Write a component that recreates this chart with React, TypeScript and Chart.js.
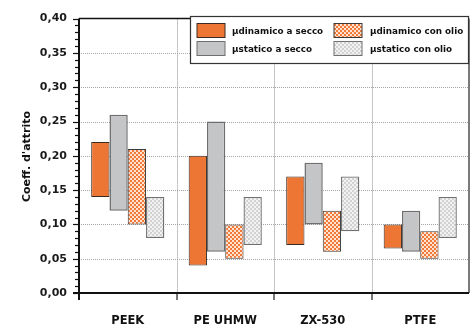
import React, { useEffect, useRef } from 'react';
import { Chart, registerables } from 'chart.js';

Chart.register(...registerables);

const categories = ['PEEK', 'PE UHMW', 'ZX-530', 'PTFE'];
const seriesLabels = ['µdinamico a secco', 'µstatico a secco', 'µdinamico con olio', 'µstatico con olio'];
const dynDryLow = [0.14, 0.04, 0.07, 0.065];
const dynDryHigh = [0.22, 0.2, 0.17, 0.1];
const statDryLow = [0.12, 0.06, 0.1, 0.06];
const statDryHigh = [0.26, 0.25, 0.19, 0.12];
const dynOilLow = [0.1, 0.05, 0.06, 0.05];
const dynOilHigh = [0.21, 0.1, 0.12, 0.09];
const statOilLow = [0.08, 0.07, 0.09, 0.08];
const statOilHigh = [0.14, 0.14, 0.17, 0.14];
const yMin = 0;
const yMax = 0.4;
const yStep = 0.05;
const yMinorStep = 0.01;
const yTitle = "Coeff. d'attrito";

const FONT = "'DejaVu Sans', sans-serif";

function makePattern(a: string, b: string): CanvasPattern | string {
  const c = document.createElement('canvas');
  c.width = 4;
  c.height = 4;
  const g = c.getContext('2d');
  if (!g) return a;
  g.fillStyle = a;
  g.fillRect(0, 0, 4, 4);
  g.fillStyle = b;
  g.fillRect(0, 0, 2, 2);
  g.fillRect(2, 2, 2, 2);
  const p = g.createPattern(c, 'repeat');
  return p || a;
}

export default function App() {
  const ref = useRef<HTMLCanvasElement | null>(null);

  useEffect(() => {
    const canvas = ref.current;
    if (!canvas) return;
    const orange = '#EE7634';
    const gray = '#C4C5C7';
    const orangePat = makePattern('#EF7A3A', '#FFE2CF');
    const grayPat = makePattern('#D2D2D2', '#F2F2F2');

    const styles = [
      { bg: orange, border: '#3a2a22', width: 1 },
      { bg: gray, border: '#6e6e6e', width: 1.5 },
      { bg: orangePat, border: '#3a3a3a', width: 1 },
      { bg: grayPat, border: '#707070', width: 1.3 },
    ];
    const lows = [dynDryLow, statDryLow, dynOilLow, statOilLow];
    const highs = [dynDryHigh, statDryHigh, dynOilHigh, statOilHigh];

    const framePlugin = {
      id: 'frame',
      beforeDatasetsDraw(chart: any) {
        const { ctx, chartArea, scales } = chart;
        const { left, right, top, bottom } = chartArea;
        const x = scales.x;
        const y = scales.y;
        ctx.save();
        ctx.setLineDash([1, 1]);
        ctx.strokeStyle = '#a6a6a6';
        ctx.lineWidth = 1;
        for (let v = yMin + yStep; v < yMax - 1e-9; v += yStep) {
          const py = Math.round(y.getPixelForValue(v)) + 0.5;
          ctx.beginPath();
          ctx.moveTo(left, py);
          ctx.lineTo(right, py);
          ctx.stroke();
        }
        ctx.strokeStyle = '#8e8e8e';
        for (let i = 1; i < categories.length; i++) {
          const px = Math.round((x.getPixelForValue(i - 1) + x.getPixelForValue(i)) / 2) + 0.5;
          ctx.beginPath();
          ctx.moveTo(px, top);
          ctx.lineTo(px, bottom);
          ctx.stroke();
        }
        ctx.restore();
      },
      afterDatasetsDraw(chart: any) {
        const { ctx, chartArea, scales } = chart;
        const { left, right, top, bottom } = chartArea;
        const x = scales.x;
        const y = scales.y;
        ctx.save();
        ctx.setLineDash([]);
        // right frame
        ctx.strokeStyle = '#7a7a7a';
        ctx.lineWidth = 2;
        ctx.beginPath();
        ctx.moveTo(right, top);
        ctx.lineTo(right, bottom);
        ctx.stroke();
        // top frame
        ctx.strokeStyle = '#111';
        ctx.lineWidth = 1.5;
        ctx.beginPath();
        ctx.moveTo(left, top);
        ctx.lineTo(right, top);
        ctx.stroke();
        // category tick marks below axis
        ctx.strokeStyle = '#777';
        ctx.lineWidth = 2;
        for (let i = 1; i < categories.length; i++) {
          const px = Math.round((x.getPixelForValue(i - 1) + x.getPixelForValue(i)) / 2);
          ctx.beginPath();
          ctx.moveTo(px, bottom);
          ctx.lineTo(px, bottom + 7);
          ctx.stroke();
        }
        // bottom axis
        ctx.strokeStyle = '#111';
        ctx.lineWidth = 2;
        ctx.beginPath();
        ctx.moveTo(left - 6, bottom);
        ctx.lineTo(right, bottom);
        ctx.stroke();
        // left axis
        ctx.beginPath();
        ctx.moveTo(left, top);
        ctx.lineTo(left, bottom + 7);
        ctx.stroke();
        // y ticks
        ctx.lineWidth = 1.2;
        const nMinor = Math.round((yMax - yMin) / yMinorStep);
        const ratio = Math.round(yStep / yMinorStep);
        for (let k = 0; k <= nMinor; k++) {
          const v = yMin + k * yMinorStep;
          const py = Math.round(y.getPixelForValue(v)) + 0.5;
          const len = k % ratio === 0 ? 6 : 4;
          ctx.beginPath();
          ctx.moveTo(left - len, py);
          ctx.lineTo(left, py);
          ctx.stroke();
        }
        // x labels
        ctx.fillStyle = '#111';
        ctx.font = `bold 11.5px ${FONT}`;
        ctx.textAlign = 'center';
        ctx.textBaseline = 'middle';
        categories.forEach((c, i) => {
          ctx.fillText(c, x.getPixelForValue(i), 321.5);
        });
        // y title
        ctx.save();
        ctx.translate(27, 156.5);
        ctx.rotate(-Math.PI / 2);
        ctx.font = `bold 11px ${FONT}`;
        ctx.textAlign = 'center';
        ctx.textBaseline = 'middle';
        ctx.fillText(yTitle, 0, 0);
        ctx.restore();
        // legend
        const lx = 190.5, ly = 16.5, lw = 278, lh = 47;
        ctx.fillStyle = '#fff';
        ctx.fillRect(lx, ly, lw, lh);
        ctx.strokeStyle = '#333';
        ctx.lineWidth = 1.2;
        ctx.strokeRect(lx, ly, lw, lh);
        const cols = [{ sx: 197, tx: 232 }, { sx: 334, tx: 370 }];
        const rows = [{ sy: 23.5, ty: 31.5 }, { sy: 41.5, ty: 49.5 }];
        const order = [
          { s: 0, c: 0, r: 0 },
          { s: 1, c: 0, r: 1 },
          { s: 2, c: 1, r: 0 },
          { s: 3, c: 1, r: 1 },
        ];
        ctx.font = `bold 8.8px ${FONT}`;
        ctx.textAlign = 'left';
        ctx.textBaseline = 'middle';
        order.forEach(({ s, c, r }) => {
          const st = styles[s];
          ctx.fillStyle = st.bg as any;
          ctx.fillRect(cols[c].sx, rows[r].sy, 28, 14);
          ctx.strokeStyle = st.border;
          ctx.lineWidth = 1;
          ctx.strokeRect(cols[c].sx, rows[r].sy, 28, 14);
          ctx.fillStyle = '#111';
          ctx.fillText(seriesLabels[s], cols[c].tx, rows[r].ty);
        });
        ctx.restore();
      },
    };

    const chart = new Chart(canvas, {
      type: 'bar',
      data: {
        labels: categories,
        datasets: seriesLabels.map((label, s) => ({
          label,
          data: categories.map((_, i) => [lows[s][i], highs[s][i]]) as any,
          backgroundColor: styles[s].bg as any,
          borderColor: styles[s].border,
          borderWidth: styles[s].width,
          borderSkipped: false,
          barPercentage: 1,
          categoryPercentage: 0.75,
        })),
      },
      options: {
        animation: false,
        responsive: false,
        devicePixelRatio: 1,
        layout: { padding: { top: 17, right: 2, left: 0, bottom: 0 } },
        plugins: { legend: { display: false }, tooltip: { enabled: false } },
        scales: {
          x: {
            grid: { display: false },
            border: { display: false },
            ticks: { display: false },
            afterFit: (s: any) => {
              s.height = 34;
            },
          },
          y: {
            min: yMin,
            max: yMax,
            grid: { display: true, color: 'transparent', drawTicks: false, drawOnChartArea: false },
            border: { display: false },
            ticks: {
              stepSize: yStep,
              padding: 12,
              color: '#1a1a1a',
              font: { family: FONT, size: 11, weight: 'bold' },
              callback: (v: any) => Number(v).toFixed(2).replace('.', ','),
            },
            afterFit: (s: any) => {
              s.width = 79;
            },
          },
        },
      },
      plugins: [framePlugin],
    });
    return () => chart.destroy();
  }, []);

  return (
    <div style={{ position: 'absolute', left: 0, top: 0, width: 471, height: 327, background: '#fff' }}>
      <canvas ref={ref} width={471} height={327} />
    </div>
  );
}
